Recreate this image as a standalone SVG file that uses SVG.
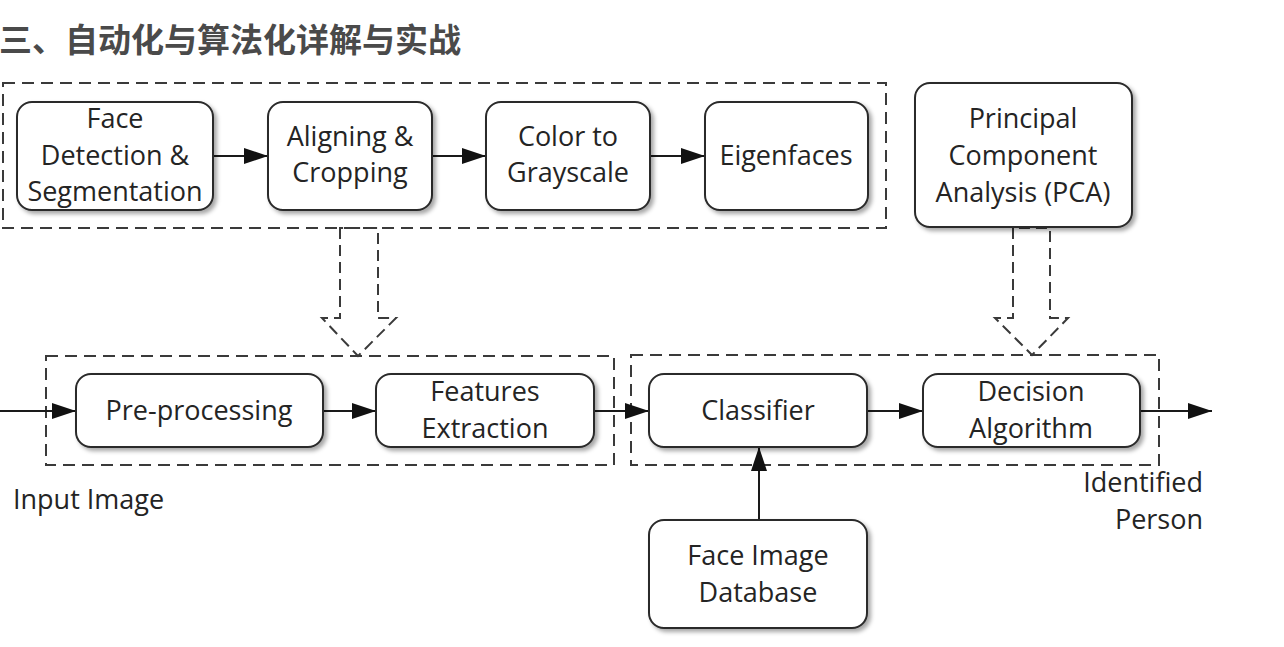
<svg xmlns="http://www.w3.org/2000/svg" width="1284" height="647" viewBox="0 0 1284 647">
<style>
.bg{fill:#ffffff}
.title{font-family:"Noto Sans CJK SC","Noto Sans",sans-serif;font-weight:700;font-size:33px;fill:#4a4a4a}
.node rect{fill:#ffffff;stroke:#2a2a2a;stroke-width:2;filter:url(#sh)}
.lbl{font-family:"Open Sans","Noto Sans",sans-serif;font-size:27px;fill:#242424;text-anchor:middle}
.free{font-family:"Open Sans","Noto Sans",sans-serif;font-size:27px;fill:#242424}
.grp{fill:none;stroke:#3a3a3a;stroke-width:2;stroke-dasharray:12 7}
.hollow{fill:none;stroke:#3a3a3a;stroke-width:2;stroke-dasharray:11 6}
.conn{fill:none;stroke:#1a1a1a;stroke-width:2;marker-end:url(#ah)}
</style>
<defs>
<filter id="sh" x="-10%" y="-10%" width="130%" height="140%">
<feDropShadow dx="3" dy="3" stdDeviation="2.2" flood-color="#000" flood-opacity="0.35"/>
</filter>
<marker id="ah" markerUnits="userSpaceOnUse" markerWidth="26" markerHeight="18" refX="24" refY="8" orient="auto">
<path d="M0,0 L24,8 L0,16 Z" fill="#111"/>
</marker>
</defs>
<rect class="bg" x="0" y="0" width="1284" height="647"/>
<text class="title" x="-1" y="52">三、自动化与算法化详解与实战</text>

<g id="groups">
<rect id="group-top" class="grp" x="3" y="83" width="883" height="145"/>
<rect id="group-left" class="grp" x="46" y="356" width="568" height="109"/>
<rect id="group-right" class="grp" x="631" y="355" width="528" height="110"/>
</g>

<g id="hollow-arrows">
<polygon id="hollow-left" class="hollow" points="340,228 340,318 322,318 358,356 396,318 378,318 378,228"/>
<polygon id="hollow-pca" class="hollow" points="1013,228 1013,318 995,318 1032,355 1068,318 1050,318 1050,228"/>
</g>

<g id="connectors">
<line class="conn" x1="213" y1="156" x2="268" y2="156"/>
<line class="conn" x1="432" y1="156" x2="486" y2="156"/>
<line class="conn" x1="650" y1="156" x2="705" y2="156"/>
<line class="conn" x1="0" y1="411" x2="76" y2="411"/>
<line class="conn" x1="323" y1="411" x2="376" y2="411"/>
<line class="conn" x1="594" y1="411" x2="649" y2="411"/>
<line class="conn" x1="867" y1="411" x2="923" y2="411"/>
<line class="conn" x1="1140" y1="411" x2="1212" y2="411"/>
<line class="conn" x1="759" y1="520" x2="759" y2="447"/>
</g>

<g id="n-face-detection" class="node">
<rect x="17" y="102" width="196" height="108" rx="15"/>
<text class="lbl" x="115" y="128">Face</text>
<text class="lbl" x="115" y="165">Detection &amp;</text>
<text class="lbl" x="115" y="201">Segmentation</text>
</g>
<g id="n-aligning" class="node">
<rect x="268" y="102" width="164" height="108" rx="15"/>
<text class="lbl" x="350" y="146">Aligning &amp;</text>
<text class="lbl" x="350" y="182">Cropping</text>
</g>
<g id="n-grayscale" class="node">
<rect x="486" y="102" width="164" height="108" rx="15"/>
<text class="lbl" x="568" y="146">Color to</text>
<text class="lbl" x="568" y="182">Grayscale</text>
</g>
<g id="n-eigenfaces" class="node">
<rect x="705" y="102" width="163" height="108" rx="15"/>
<text class="lbl" x="786" y="165">Eigenfaces</text>
</g>
<g id="n-pca" class="node">
<rect x="915" y="83" width="217" height="144" rx="15"/>
<text class="lbl" x="1023" y="128">Principal</text>
<text class="lbl" x="1023" y="165">Component</text>
<text class="lbl" x="1023" y="202">Analysis (PCA)</text>
</g>
<g id="n-preprocessing" class="node">
<rect x="76" y="374" width="247" height="73" rx="15"/>
<text class="lbl" x="199" y="420">Pre-processing</text>
</g>
<g id="n-features" class="node">
<rect x="376" y="374" width="218" height="73" rx="15"/>
<text class="lbl" x="485" y="401">Features</text>
<text class="lbl" x="485" y="438">Extraction</text>
</g>
<g id="n-classifier" class="node">
<rect x="649" y="374" width="218" height="73" rx="15"/>
<text class="lbl" x="758" y="420">Classifier</text>
</g>
<g id="n-decision" class="node">
<rect x="923" y="374" width="217" height="73" rx="15"/>
<text class="lbl" x="1031" y="401">Decision</text>
<text class="lbl" x="1031" y="438">Algorithm</text>
</g>
<g id="n-database" class="node">
<rect x="649" y="520" width="218" height="108" rx="15"/>
<text class="lbl" x="758" y="565">Face Image</text>
<text class="lbl" x="758" y="602">Database</text>
</g>

<g id="labels">
<text class="free" x="13" y="509">Input Image</text>
<text class="free" x="1203" y="492" text-anchor="end">Identified</text>
<text class="free" x="1203" y="529" text-anchor="end">Person</text>
</g>
</svg>
